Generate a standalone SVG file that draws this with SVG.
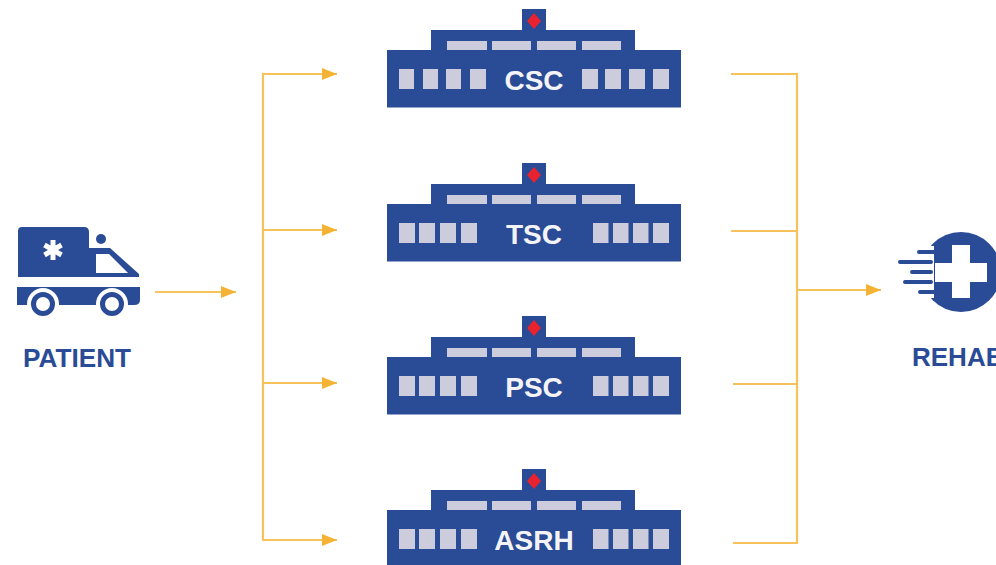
<svg xmlns="http://www.w3.org/2000/svg" xmlns:xlink="http://www.w3.org/1999/xlink" width="996" height="565" viewBox="0 0 996 565">
<style>
.navy{fill:#2a4b95}
.win{fill:#ccccdc}
.red{fill:#e8232f}
.wire{fill:none;stroke:#f7c15c;stroke-width:2.200}
.bt{font-family:"Liberation Sans",Arial,sans-serif;font-weight:700;font-size:28px;fill:#f4f4f8;text-anchor:middle}
.lab{font-family:"Liberation Sans",Arial,sans-serif;font-weight:700;font-size:26px;fill:#2a4b95}
</style>
<defs>
<marker id="arr" markerUnits="userSpaceOnUse" markerWidth="16" markerHeight="14" refX="15" refY="7" orient="auto"><path d="M0 1L15 7L0 13Z" fill="#f5b335"/></marker>
<g id="base">
<rect class="navy" x="522" y="9" width="24" height="22"/>
<path class="red" d="M534 13L541 21L534 29L527 21Z"/>
<rect class="navy" x="431" y="30" width="204" height="21"/>
<rect class="navy" x="387" y="50" width="294" height="57.500"/>
<rect class="win" x="447" y="41" width="40" height="9"/>
<rect class="win" x="492" y="41" width="39" height="9"/>
<rect class="win" x="537" y="41" width="39" height="9"/>
<rect class="win" x="582" y="41" width="39" height="9"/>
</g>
<g id="wr">
<rect class="win" x="593" y="69" width="15.500" height="20"/>
<rect class="win" x="613" y="69" width="15.500" height="20"/>
<rect class="win" x="633" y="69" width="15.500" height="20"/>
<rect class="win" x="653" y="69" width="16" height="20"/>
</g>
<g id="wl">
<rect class="win" x="399" y="69" width="16" height="20"/>
<rect class="win" x="419" y="69" width="16" height="20"/>
<rect class="win" x="440" y="69" width="16" height="20"/>
<rect class="win" x="461" y="69" width="16" height="20"/>
</g>
</defs>
<rect width="996" height="565" fill="#fff"/>
<g id="connectors">
<path class="wire" d="M155 292H236" marker-end="url(#arr)"/>
<path class="wire" d="M263 540V74H337" marker-end="url(#arr)"/>
<path class="wire" d="M263 230H337" marker-end="url(#arr)"/>
<path class="wire" d="M263 383H337" marker-end="url(#arr)"/>
<path class="wire" d="M262 540H337" marker-end="url(#arr)"/>
<path class="wire" d="M731 74H797V543H733"/>
<path class="wire" d="M731 231H797"/>
<path class="wire" d="M733 384H797"/>
<path class="wire" d="M797 290H881" marker-end="url(#arr)"/>
</g>
<g id="patient">
<path class="navy" d="M22 227H84Q89 227 89 232V248H110L139 274V277H18V231Q18 227 22 227Z"/>
<path d="M96 254H109L128 273H96Z" fill="#fff"/>
<circle class="navy" cx="101" cy="239" r="5"/>
<path class="navy" d="M17 287H140V300Q140 305 134 305H17Z"/>
<path class="navy" d="M17 287H30V305H22Q17 305 17 300Z"/>
<circle cx="43" cy="304" r="16" fill="#fff"/>
<circle cx="112" cy="304" r="16" fill="#fff"/>
<circle cx="43" cy="304" r="9.500" fill="none" stroke="#2a4b95" stroke-width="5"/>
<circle cx="112" cy="304" r="9.500" fill="none" stroke="#2a4b95" stroke-width="5"/>
<path d="M53 240V260M44.500 245L61.500 255M61.500 245L44.500 255" stroke="#fff" stroke-width="5" fill="none"/>
<text class="lab" x="77" y="367" text-anchor="middle" textLength="108" lengthAdjust="spacingAndGlyphs">PATIENT</text>
</g>
<g id="csc">
<use xlink:href="#base" href="#base"/>
<rect class="win" x="399" y="69" width="15" height="20"/><rect class="win" x="423" y="69" width="15" height="20"/><rect class="win" x="446" y="69" width="15" height="20"/><rect class="win" x="470" y="69" width="16" height="20"/>
<rect class="win" x="582" y="69" width="16" height="20"/><rect class="win" x="605" y="69" width="16" height="20"/><rect class="win" x="629" y="69" width="16" height="20"/><rect class="win" x="653" y="69" width="16" height="20"/>
<text class="bt" x="534" y="90">CSC</text>
</g>
<g id="tsc" transform="translate(0 154)">
<use xlink:href="#base" href="#base"/><use xlink:href="#wl" href="#wl"/><use xlink:href="#wr" href="#wr"/>
<text class="bt" x="534" y="90">TSC</text>
</g>
<g id="psc" transform="translate(0 307)">
<use xlink:href="#base" href="#base"/><use xlink:href="#wl" href="#wl"/><use xlink:href="#wr" href="#wr"/>
<text class="bt" x="534" y="90">PSC</text>
</g>
<g id="asrh" transform="translate(0 460)">
<use xlink:href="#base" href="#base"/><use xlink:href="#wl" href="#wl"/><use xlink:href="#wr" href="#wr"/>
<text class="bt" x="534" y="90">ASRH</text>
</g>
<g id="rehab">
<circle class="navy" cx="961" cy="272" r="40"/>
<path d="M918 246H934V257H918ZM900 257H934V267H900ZM900 267H934V277H900ZM900 277H934V287H900ZM918 287H934V298H918Z" fill="#fff"/>
<path d="M952 245H970V263H987V282H970V298H952V282H935V263H952Z" fill="#fff"/>
<path d="M919 252H936M900 262H931M912 272H931M905 282H931M920 292H936" stroke="#2a4b95" stroke-width="4" stroke-linecap="round" fill="none"/>
<text class="lab" x="912" y="366">REHAB</text>
</g>
</svg>
